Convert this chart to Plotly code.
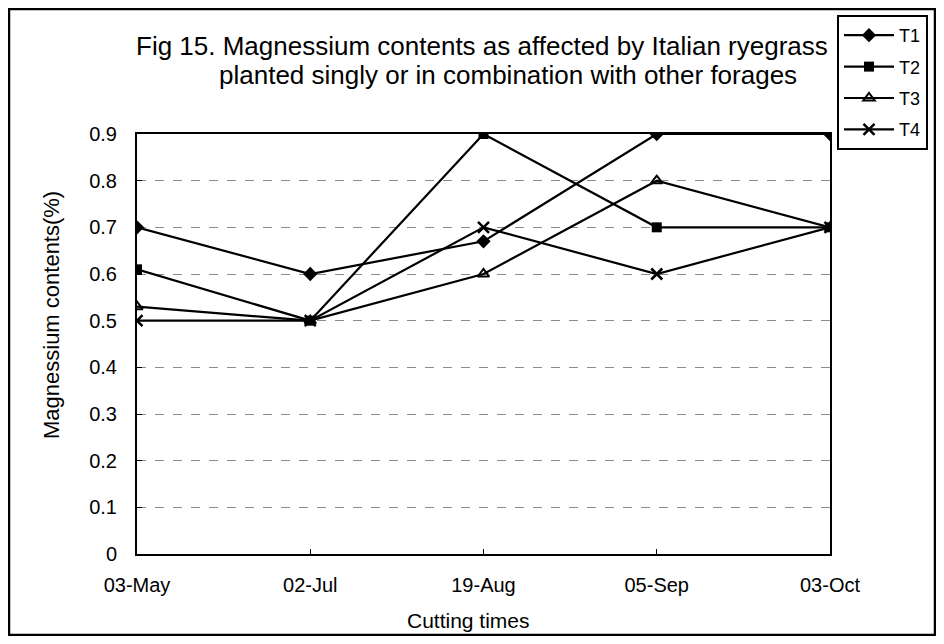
import plotly.graph_objects as go

cut_dates = ["03-May", "02-Jul", "19-Aug", "05-Sep", "03-Oct"]
t1 = [0.70, 0.60, 0.67, 0.90, 0.90]
t2 = [0.61, 0.50, 0.90, 0.70, 0.70]
t3 = [0.53, 0.50, 0.60, 0.80, 0.70]
t4 = [0.50, 0.50, 0.70, 0.60, 0.70]
y_ticks = [0, 0.1, 0.2, 0.3, 0.4, 0.5, 0.6, 0.7, 0.8, 0.9]
y_tick_text = ["0", "0.1", "0.2", "0.3", "0.4", "0.5", "0.6", "0.7", "0.8", "0.9"]

font_name = "Liberation Sans, Arial, sans-serif"

fig = go.Figure()

# one trace per treatment, all black, told apart by the marker
series = [
    ("T1", t1, dict(symbol="diamond", size=11, color="black")),
    ("T2", t2, dict(symbol="square", size=10, color="black")),
    ("T3", t3, dict(symbol="triangle-up-open", size=10, color="black", line=dict(width=2))),
    ("T4", t4, dict(symbol="x-thin-open", size=11, color="black", line=dict(width=2.5, color="black"))),
]
for name, vals, mk in series:
    fig.add_trace(
        go.Scatter(
            x=cut_dates,
            y=vals,
            mode="lines+markers",
            name=name,
            legendgroup=name,
            line=dict(color="black", width=2.2),
            marker=mk,
        )
    )

# page body adds 8px around the figure, so keep it a bit smaller than the window
fig.update_layout(
    width=928,
    height=628,
    margin=dict(l=129, r=106, t=126, b=82, autoexpand=False),
    plot_bgcolor="white",
    paper_bgcolor="white",
    font=dict(family=font_name, size=20, color="black"),
    showlegend=True,
    legend=dict(
        x=1.0101, y=1.2833, xanchor="left", yanchor="top",
        bordercolor="black", borderwidth=2, bgcolor="white",
        font=dict(size=18), tracegroupgap=5, itemwidth=50,
    ),
    annotations=[
        dict(text="Fig 15. Magnessium contents as affected by Italian ryegrass",
             xref="paper", yref="paper", x=0.4978, y=1.2095, showarrow=False,
             font=dict(size=26), xanchor="center", yanchor="middle"),
        dict(text="planted singly or in combination with other forages",
             xref="paper", yref="paper", x=0.5354, y=1.1405, showarrow=False,
             font=dict(size=26), xanchor="center", yanchor="middle"),
        dict(text="Magnessium contents(%)",
             xref="paper", yref="paper", x=-0.1241, y=0.569, showarrow=False,
             textangle=-90, font=dict(size=22), xanchor="center", yanchor="middle"),
        dict(text="Cutting times",
             xref="paper", yref="paper", x=0.479, y=-0.1595, showarrow=False,
             font=dict(size=21), xanchor="center", yanchor="middle"),
    ],
    shapes=[
        dict(type="rect", xref="paper", yref="paper",
             x0=-0.1847, x1=1.1515, y0=-0.1929, y1=1.2976,
             line=dict(color="black", width=2.5), layer="below"),
    ],
)

fig.update_xaxes(
    type="category",
    range=[0, 4],
    showline=True, linecolor="black", linewidth=2, mirror=True,
    showgrid=False,
    ticks="inside", ticklen=5, tickcolor="black",
    ticklabelstandoff=12,
)
fig.update_yaxes(
    range=[0, 0.9],
    tickvals=y_ticks,
    ticktext=y_tick_text,
    showline=True, linecolor="black", linewidth=2, mirror=True,
    showgrid=True, gridcolor="#8a8a8a", griddash="dash", gridwidth=1,
    ticks="inside", ticklen=5, tickcolor="black",
    ticklabelstandoff=14,
    zeroline=False,
)

fig.write_html("out.html")
